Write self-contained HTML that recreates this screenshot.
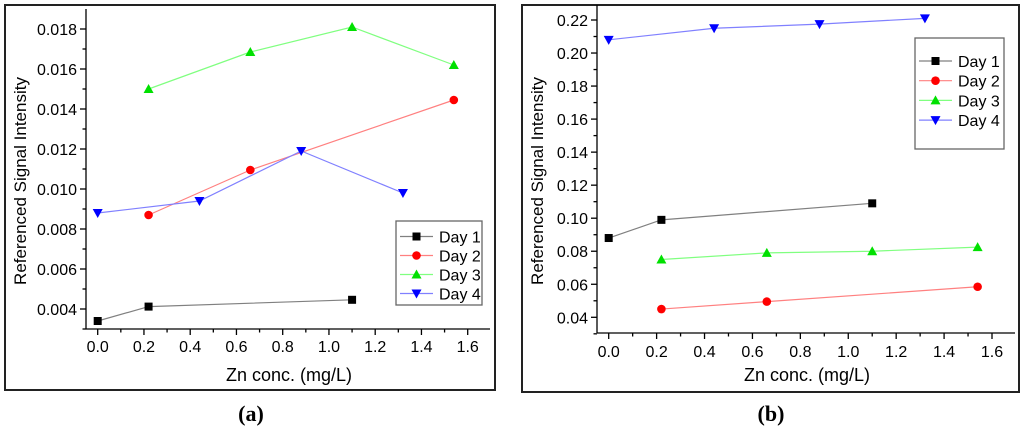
<!DOCTYPE html>
<html><head><meta charset="utf-8"><style>
html,body{margin:0;padding:0;background:#fff;width:1024px;height:433px;overflow:hidden}
svg{display:block}
text{font-family:"Liberation Sans",sans-serif}
</style></head><body>
<svg id="fig" width="1024" height="433" viewBox="0 0 1024 433"></svg>
<script>
const xTicksA=[0,0.2,0.4,0.6,0.8,1.0,1.2,1.4,1.6];
const xTickLabels=["0.0","0.2","0.4","0.6","0.8","1.0","1.2","1.4","1.6"];
const yTicksA=[0.004,0.006,0.008,0.010,0.012,0.014,0.016,0.018];
const yTicksB=[0.04,0.06,0.08,0.10,0.12,0.14,0.16,0.18,0.20,0.22];
const seriesNames=["Day 1","Day 2","Day 3","Day 4"];
const a_day1_x=[0,0.22,1.1], a_day1_y=[0.0034,0.00412,0.00446];
const a_day2_x=[0.22,0.66,1.54], a_day2_y=[0.0087,0.01095,0.01445];
const a_day3_x=[0.22,0.66,1.1,1.54], a_day3_y=[0.0150,0.01685,0.0181,0.0162];
const a_day4_x=[0,0.44,0.88,1.32], a_day4_y=[0.0088,0.0094,0.0119,0.0098];
const b_day1_x=[0,0.22,1.1], b_day1_y=[0.088,0.099,0.109];
const b_day2_x=[0.22,0.66,1.54], b_day2_y=[0.045,0.0495,0.0585];
const b_day3_x=[0.22,0.66,1.1,1.54], b_day3_y=[0.075,0.079,0.080,0.0825];
const b_day4_x=[0,0.44,0.88,1.32], b_day4_y=[0.208,0.215,0.2175,0.221];

const NS="http://www.w3.org/2000/svg";
const svg=document.getElementById('fig');
function mk(tag,attrs,parent,txt){const e=document.createElementNS(NS,tag);for(const k in attrs)e.setAttribute(k,attrs[k]);if(txt!==undefined)e.textContent=txt;(parent||svg).appendChild(e);return e;}
const styles=[{line:"#808080",fill:"#000",m:"sq"},{line:"#ff8080",fill:"#ff0000",m:"ci"},{line:"#80ff80",fill:"#00e000",m:"up"},{line:"#8080ff",fill:"#0000ff",m:"dn"}];
function marker(g,t,x,y,c){
  let e;
  if(t=="sq")e=mk('rect',{x:x-4,y:y-4,width:8,height:8,fill:c},g);
  else if(t=="ci")e=mk('circle',{cx:x,cy:y,r:4.3,fill:c},g);
  else if(t=="up")e=mk('polygon',{points:`${x-5},${y+4} ${x+5},${y+4} ${x},${y-5}`,fill:c},g);
  else e=mk('polygon',{points:`${x-5},${y-4} ${x+5},${y-4} ${x},${y+5}`,fill:c},g);
  
  
}
function panel(cfg){
  const g=mk('g',{},svg);
  
  
  const fr=mk('rect',{x:cfg.fx,y:cfg.fy,width:cfg.fw,height:cfg.fh,fill:'none',stroke:'#222','stroke-width':2},g);
  
  const sx=v=>cfg.x0+(v-0)/1.6*(cfg.x1-cfg.x0);
  const sy=v=>cfg.y0+(v-cfg.yv0)/(cfg.yv1-cfg.yv0)*(cfg.y1-cfg.y0);
  const ax=mk('g',{stroke:'#000','stroke-width':1.3},g);
  
  mk('line',{x1:cfg.ax,y1:cfg.atop,x2:cfg.ax,y2:cfg.ab},ax);
  mk('line',{x1:cfg.ax,y1:cfg.ab,x2:cfg.aright,y2:cfg.ab},ax);
  xTicksA.forEach((v,i)=>{
    const x=sx(v);mk('line',{x1:x,y1:cfg.ab,x2:x,y2:cfg.ab+6},ax);
    if(i<xTicksA.length-1)mk('line',{x1:sx(v+0.1),y1:cfg.ab,x2:sx(v+0.1),y2:cfg.ab+3.5},ax);
    const t=mk('text',{x:x,y:cfg.xtly,'text-anchor':'middle','font-size':16,fill:'#000'},g,xTickLabels[i]);
    
  });
  const yt=cfg.yticks,step=yt[1]-yt[0];
  yt.forEach((v,i)=>{
    const y=sy(v);mk('line',{x1:cfg.ax,y1:y,x2:cfg.ax-6,y2:y},ax);
    mk('line',{x1:cfg.ax,y1:sy(v-step/2),x2:cfg.ax-3.5,y2:sy(v-step/2)},ax);
    const t=mk('text',{x:cfg.ax-9,y:y+6,'text-anchor':'end','font-size':16,fill:'#000'},g,cfg.ylabels[i]);
    
  });
  if(sy(yt[yt.length-1]+step/2)>cfg.atop)mk('line',{x1:cfg.ax,y1:sy(yt[yt.length-1]+step/2),x2:cfg.ax-3.5,y2:sy(yt[yt.length-1]+step/2)},ax);
  const xt=mk('text',{x:cfg.xtx,y:cfg.xty,'text-anchor':'middle','font-size':18,fill:'#000'},g,'Zn conc. (mg/L)');
  
  const yc=181;
  const ytt=mk('text',{x:cfg.ylx,y:yc,'text-anchor':'middle','font-size':17,fill:'#000',transform:`rotate(-90 ${cfg.ylx} ${yc})`},g,'Referenced Signal Intensity');
  
  cfg.series.forEach((s,i)=>{
    const sg=mk('g',{},g);
    
    const pts=s[0].map((xv,j)=>sx(xv)+','+sy(s[1][j])).join(' ');
    mk('polyline',{points:pts,fill:'none',stroke:styles[i].line,'stroke-width':1.2},sg);
    s[0].forEach((xv,j)=>marker(sg,styles[i].m,sx(xv),sy(s[1][j]),styles[i].fill));
  });
  const L=cfg.leg;
  const lg=mk('g',{},g);
  
  mk('rect',{x:L.x,y:L.y,width:L.w,height:L.h,fill:'#fff',stroke:'#666','stroke-width':1.3},lg);
  seriesNames.forEach((n,i)=>{
    const e=mk('g',{},lg);
    
    const y=L.y+L.y0+i*L.dy;
    mk('line',{x1:L.x+4,y1:y,x2:L.x+37,y2:y,stroke:styles[i].line,'stroke-width':1.2},e);
    marker(e,styles[i].m,L.x+20.5,y,styles[i].fill);
    mk('text',{x:L.x+43,y:y+6,'font-size':16,fill:'#000'},e,n);
  });
  const cap=mk('text',{x:cfg.capx,y:421,'text-anchor':'middle',style:'font-family:"Liberation Serif",serif;font-size:22px;font-weight:bold',fill:'#000'},g,'('+cfg.id+')');
  
}
panel({id:'a',fx:5,fy:5,fw:490,fh:385,x0:97.7,x1:467.7,yv0:0.004,yv1:0.018,y0:309,y1:29,
  ax:86,ab:329,atop:9,aright:490,ylx:26,xtly:352,xtx:289,xty:381,yticks:yTicksA,ylabels:yTicksA.map(v=>v.toFixed(3)),
  series:[[a_day1_x,a_day1_y],[a_day2_x,a_day2_y],[a_day3_x,a_day3_y],[a_day4_x,a_day4_y]],
  leg:{x:396,y:221,w:86,h:84,y0:15.5,dy:19},capx:251});
panel({id:'b',fx:522,fy:5,fw:497,fh:387,x0:608.7,x1:992,yv0:0.04,yv1:0.22,y0:317.3,y1:20,
  ax:597,ab:333,atop:5,aright:1015,ylx:543,xtly:357,xtx:807,xty:381,yticks:yTicksB,ylabels:yTicksB.map(v=>v.toFixed(2)),
  series:[[b_day1_x,b_day1_y],[b_day2_x,b_day2_y],[b_day3_x,b_day3_y],[b_day4_x,b_day4_y]],
  leg:{x:915,y:38,w:89,h:111,y0:23,dy:19.7},capx:771});
</script>
</body></html>
